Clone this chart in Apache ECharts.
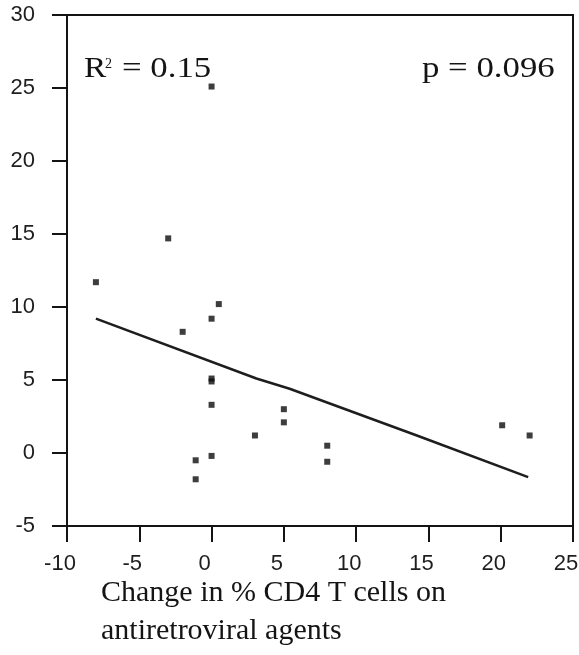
<!DOCTYPE html>
<html>
<head>
<meta charset="utf-8">
<script src="https://cdn.jsdelivr.net/npm/echarts@6/dist/echarts.min.js"></script>
<style>
  html, body { margin: 0; padding: 0; background: #fff; }
  #chart { width: 579px; height: 655px; }
</style>
</head>
<body>
<div id="chart"></div>
<script>
// Change in % CD4 T cells (x) against the outcome measure (y), one point per patient
const changeCD4 = [-8.0, -3.0, 0.0, 0.5, 0.0, -2.0, 0.0, 0.0, 0.0, 0.0, -1.1, -1.1, 3.0, 5.0, 5.0, 8.0, 8.0, 20.1, 22.0];
const outcome   = [11.7, 14.7, 25.1, 10.2, 9.2, 8.3, 5.1, 4.9, 3.3, -0.2, -0.5, -1.8, 1.2, 3.0, 2.1, 0.5, -0.6, 1.9, 1.2];

// Fitted regression line, as plotted
const fitX = [-8.0, 3.1, 5.4, 14.2, 21.9];
const fitY = [9.2, 5.1, 4.4, 1.2, -1.65];

// Axis ranges and tick step
const xTicks = { min: -10, max: 25, step: 5 };
const yTicks = { min: -5, max: 30, step: 5 };

const statR2 = '0.15';
const statP = '0.096';
const xTitle = ['Change in % CD4 T cells on', 'antiretroviral agents'];

const points = changeCD4.map((x, i) => [x, outcome[i]]);
const fitLine = fitX.map((x, i) => [x, fitY[i]]);

const ink = '#141414';
const sans = '"Liberation Sans", Arial, sans-serif';
const serif = '"Liberation Serif", "Times New Roman", serif';
const statFont = '29px ' + serif;

const chart = echarts.init(document.getElementById('chart'), null, { renderer: 'canvas' });
chart.setOption({
  animation: false,
  backgroundColor: '#ffffff',
  grid: {
    left: 67, top: 15, right: 6, bottom: 129,
    outerBoundsMode: 'none', containLabel: false,
    show: true, borderColor: ink, borderWidth: 2, backgroundColor: 'transparent'
  },
  xAxis: {
    type: 'value', min: xTicks.min, max: xTicks.max, interval: xTicks.step,
    axisLine: { show: true, onZero: false, lineStyle: { color: ink, width: 2 } },
    axisTick: { show: true, length: 16, lineStyle: { color: ink, width: 2 } },
    // labels sit a little left of their ticks
    axisLabel: { margin: 27, color: '#1e1e1e', fontSize: 22, fontFamily: sans, padding: [0, 14, 0, 0] },
    splitLine: { show: false }
  },
  yAxis: {
    type: 'value', min: yTicks.min, max: yTicks.max, interval: yTicks.step,
    axisLine: { show: true, onZero: false, lineStyle: { color: ink, width: 2 } },
    axisTick: { show: true, length: 15, lineStyle: { color: ink, width: 2 } },
    axisLabel: { margin: 32, color: '#1e1e1e', fontSize: 22, fontFamily: sans, padding: [8, 0, 0, 0] },
    splitLine: { show: false }
  },
  series: [
    {
      type: 'line', data: fitLine, symbol: 'none', silent: true,
      lineStyle: { color: '#1e1e1e', width: 2.5 }, z: 2
    },
    {
      type: 'scatter', data: points, symbol: 'rect', symbolSize: 6,
      itemStyle: { color: '#0d0d0d' }, z: 3
    }
  ],
  graphic: [
    // regression statistics, set in a slightly widened serif face
    { type: 'text', x: 84, y: 55, scaleX: 1.15, style: { text: 'R', font: statFont, fill: ink } },
    { type: 'text', x: 105, y: 57, style: { text: '2', font: '14px ' + serif, fill: ink } },
    { type: 'text', x: 122, y: 55, scaleX: 1.2, style: { text: '= ' + statR2, font: statFont, fill: ink } },
    { type: 'text', x: 422, y: 55, scaleX: 1.2, style: { text: 'p = ' + statP, font: statFont, fill: ink } },
    // x axis title, two lines
    { type: 'text', left: 101, top: 578, style: { text: xTitle[0], font: '30px ' + serif, fill: ink } },
    { type: 'text', left: 101, top: 616, style: { text: xTitle[1], font: '30px ' + serif, fill: ink } }
  ]
});
</script>
</body>
</html>
